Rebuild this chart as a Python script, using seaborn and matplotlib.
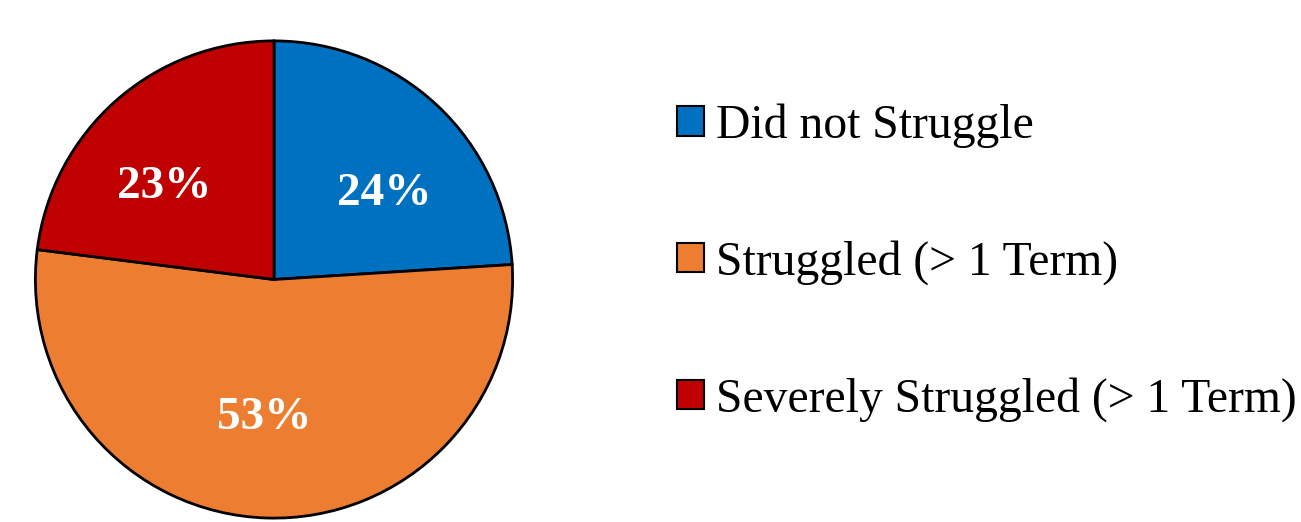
import matplotlib
matplotlib.use("Agg")
import matplotlib.pyplot as plt
from matplotlib.patches import Patch
from matplotlib.transforms import offset_copy
import seaborn as sns

# Survey outcome categories and their shares (percent)
categories = ["Did not Struggle", "Struggled (> 1 Term)", "Severely Struggled (> 1 Term)"]
shares = [24, 53, 23]
colors = ["#0070C0", "#ED7D31", "#C00000"]
# small per-label nudges (pixels) for the percentage labels
label_nudge = [(12, -19), (-5, 5), (-15, -15)]

sns.set_theme(style="white")
plt.rcParams["font.family"] = ["Liberation Serif", "DejaVu Serif"]
plt.rcParams["text.color"] = "black"

W, H, DPI = 1301, 522, 100
fig = plt.figure(figsize=(W / DPI, H / DPI), dpi=DPI)
fig.patch.set_facecolor("white")

# Pie axes: centre (274, 279.5) px from top-left, radius 241 px
cx, cy, r = 274, 279.5, 241
ax = fig.add_axes([(cx - r) / W, (H - cy - r) / H, 2 * r / W, 2 * r / H])

palette = sns.color_palette(colors)
wedges, texts, autotexts = ax.pie(
    shares,
    colors=palette,
    startangle=90,
    counterclock=False,
    autopct=lambda p: f"{p:.0f}%",
    pctdistance=0.6,
    wedgeprops=dict(edgecolor="black", linewidth=2),
    textprops=dict(color="white", fontsize=34, fontweight="bold"),
)
for t, (dx, dy) in zip(autotexts, label_nudge):
    t.set_transform(offset_copy(ax.transData, fig=fig, x=dx, y=dy, units="dots"))
ax.set_xlim(-1.01, 1.01)
ax.set_ylim(-1.01, 1.01)
ax.set_aspect("equal")
ax.axis("off")

handles = [Patch(facecolor=c, edgecolor="black", linewidth=1.5) for c in palette]
fig.legend(
    handles, categories,
    loc="center left",
    bbox_to_anchor=(677 / W, 1 - 262.5 / H),
    frameon=False,
    fontsize=34.3,
    labelcolor="black",
    handlelength=0.57,
    handleheight=0.57,
    handletextpad=0.25,
    labelspacing=1.93,
    borderpad=0,
    borderaxespad=0,
)

fig.savefig("out.png", dpi=DPI, facecolor="white")
